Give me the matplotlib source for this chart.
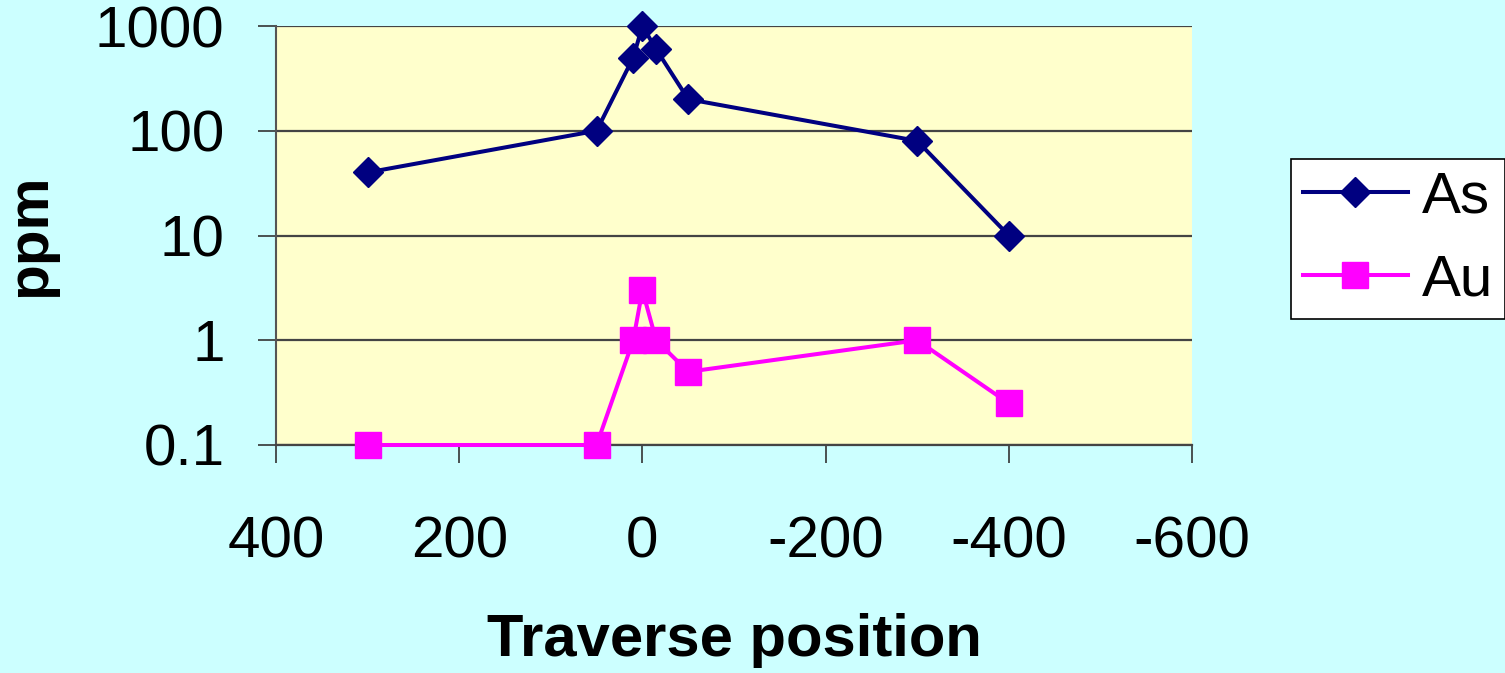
import numpy as np
import matplotlib.pyplot as plt

plt.rcParams['font.family'] = ['Liberation Sans', 'DejaVu Sans']
plt.rcParams['axes.unicode_minus'] = False

# traverse positions and concentrations (ppm)
pos_as = [300, 50, 10, 0, -15, -50, -300, -400]
as_ppm = [40, 100, 500, 1000, 600, 200, 80, 10]

pos_au = [300, 50, 10, 0, -15, -50, -300, -400]
au_ppm = [0.1, 0.1, 1, 3, 1, 0.5, 1, 0.25]

xticks = [400, 200, 0, -200, -400, -600]
yticks = [0.1, 1, 10, 100, 1000]
ytick_labels = ['0.1', '1', '10', '100', '1000']

bg = '#CCFFFF'
plot_bg = '#FFFFCC'

fig = plt.figure(figsize=(15.05, 6.73), dpi=100, facecolor=bg)
ax = fig.add_axes([276/1505, 1 - 445/673, 916/1505, 419/673])
ax.set_facecolor(plot_bg)

ax.plot(pos_as, as_ppm, color='#000080', lw=2.9, marker='D', ms=15,
        label='As', clip_on=False, zorder=4)
ax.plot(pos_au, au_ppm, color='#FF00FF', lw=2.9, marker='s', ms=19,
        label='Au', clip_on=False, zorder=3)

ax.set_yscale('log')
ax.set_ylim(0.1, 1000)
ax.set_xlim(400, -600)
ax.set_xticks(xticks)
ax.set_xticklabels([str(v) for v in xticks])
ax.set_yticks(yticks)
ax.set_yticklabels(ytick_labels)
ax.minorticks_off()

ax.grid(axis='y', color='#444444', lw=1.6)
ax.set_axisbelow(True)
for s in ['top', 'right']:
    ax.spines[s].set_visible(False)
ax.spines['left'].set_color('#555555')
ax.spines['bottom'].set_color('#444444')
ax.spines['left'].set_linewidth(1.5)
ax.spines['bottom'].set_linewidth(1.6)

ax.tick_params(axis='x', length=13, width=1.2, color='#333333', pad=38, labelsize=42)
ax.tick_params(axis='y', length=13, width=1.2, color='#333333', pad=24, labelsize=42)

ax.set_ylabel('ppm', fontsize=42, fontweight='bold')
ax.yaxis.set_label_coords(-0.2395, 0.5)
ax.set_xlabel('Traverse position', fontsize=43, fontweight='bold')
ax.xaxis.set_label_coords(0.5, -0.40)

leg = fig.legend(loc='center', bbox_to_anchor=(0.929, 0.645), fontsize=42,
                 frameon=True, fancybox=False, edgecolor='black', framealpha=1,
                 handlelength=1.8, handletextpad=0.25, borderpad=0.2,
                 labelspacing=0.5)
leg.get_frame().set_linewidth(1.2)

fig.savefig('out.png', dpi=100, facecolor=bg)
